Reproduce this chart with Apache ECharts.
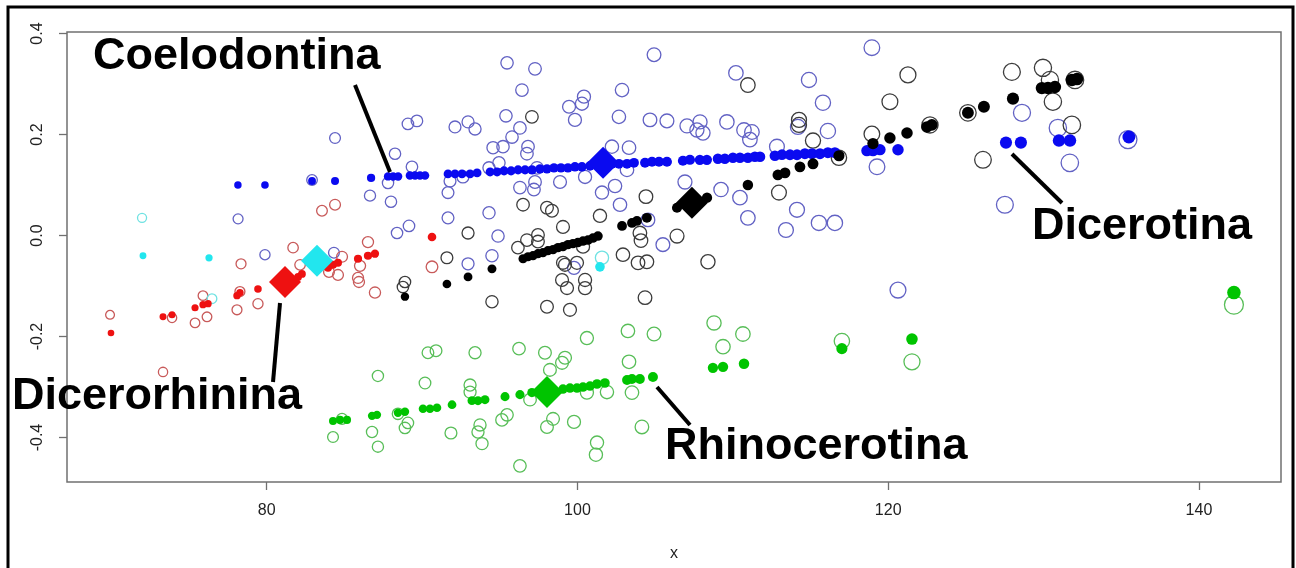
<!DOCTYPE html>
<html><head><meta charset="utf-8">
<script src="https://cdn.jsdelivr.net/npm/echarts@6/dist/echarts.min.js"></script>
<style>html,body{margin:0;padding:0;background:#fff}#c{width:1296px;height:568px}</style>
</head><body><div id="c"></div>
<script>
// ---- data (x, y) ----
const xTicks = [80, 100, 120, 140];
const yTicks = [-0.4, -0.2, 0.0, 0.2, 0.4];
const yTickLabels = ['-0.4', '-0.2', '0.0', '0.2', '0.4'];
const xAxisTitle = 'x';
const groupLabels = ['Coelodontina', 'Dicerorhinina', 'Rhinocerotina', 'Dicerotina'];

const blueObserved = [[78.16,0.033],[79.89,-0.038],[82.92,0.110],[84.40,0.193],[84.33,-0.034],[86.65,0.079],[87.81,0.104],[88.00,0.067],[88.26,0.162],[88.39,0.005],[89.16,0.019],[89.09,0.221],[89.67,0.227],[89.35,0.136],[91.67,0.085],[91.67,0.035],[92.12,0.215],[92.96,0.225],[93.41,0.211],[95.47,0.342],[97.27,0.330],[96.43,0.288],[95.40,0.237],[96.30,0.213],[95.79,0.195],[94.57,0.174],[95.21,0.176],[96.82,0.176],[96.75,0.162],[94.31,0.134],[94.95,0.144],[97.40,0.134],[99.46,0.255],[100.29,0.261],[100.42,0.275],[99.84,0.229],[102.87,0.288],[102.67,0.235],[104.93,0.358],[104.67,0.229],[105.76,0.227],[107.05,0.217],[107.89,0.225],[107.69,0.209],[108.08,0.203],[109.62,0.225],[110.20,0.322],[110.72,0.209],[111.23,0.205],[111.10,0.190],[114.90,0.308],[115.80,0.263],[116.12,0.207],[114.19,0.215],[112.84,0.176],[118.95,0.372],[119.28,0.136],[92.63,0.116],[94.31,0.045],[94.89,-0.001],[96.30,0.095],[97.20,0.091],[97.27,0.106],[98.88,0.106],[100.49,0.116],[101.58,0.085],[102.42,0.098],[102.74,0.061],[102.22,0.176],[103.32,0.174],[103.19,0.130],[104.54,0.031],[106.92,0.106],[109.24,0.091],[110.46,0.075],[110.97,0.035],[114.13,0.051],[113.42,0.011],[115.54,0.025],[116.57,0.025],[105.50,-0.018],[92.96,-0.056],[94.50,-0.040],[128.61,0.243],[130.92,0.213],[131.69,0.144],[127.51,0.061],[135.43,0.190],[120.63,-0.108],[91.80,0.108],[99.78,-0.064]];

const bluePredicted = [[78.15,0.100],[79.89,0.100],[82.92,0.108],[84.40,0.108],[86.72,0.114],[87.81,0.117],[88.14,0.117],[88.46,0.117],[89.22,0.119],[89.55,0.119],[89.87,0.119],[90.19,0.119],[91.67,0.122],[92.12,0.122],[92.57,0.122],[93.09,0.122],[93.54,0.124],[94.38,0.126],[94.83,0.126],[95.28,0.128],[95.73,0.128],[96.18,0.130],[96.63,0.130],[97.08,0.130],[97.59,0.132],[98.04,0.132],[98.49,0.134],[98.94,0.134],[99.39,0.134],[99.84,0.136],[100.29,0.136],[100.81,0.138],[101.26,0.140],[102.22,0.142],[102.67,0.142],[103.19,0.142],[103.64,0.144],[104.35,0.144],[104.80,0.146],[105.25,0.146],[105.76,0.146],[106.79,0.148],[107.24,0.150],[107.88,0.150],[108.33,0.150],[109.04,0.152],[109.49,0.152],[110.01,0.154],[110.46,0.154],[110.97,0.154],[111.42,0.156],[111.75,0.156],[112.71,0.158],[113.16,0.160],[113.68,0.160],[114.13,0.160],[114.64,0.162],[115.10,0.162],[115.61,0.162],[116.12,0.164],[116.57,0.164],[118.63,0.168],[119.02,0.168],[119.47,0.170],[120.63,0.170],[127.58,0.184],[128.54,0.184],[130.99,0.188],[131.70,0.188],[135.49,0.195]];

const blackObserved = [[88.90,-0.092],[88.77,-0.102],[91.60,-0.044],[92.96,0.005],[94.50,-0.131],[96.50,0.061],[97.07,0.235],[98.04,0.055],[98.36,0.049],[96.75,-0.009],[97.46,0.001],[98.04,-0.141],[99.52,-0.147],[99.01,-0.088],[99.33,-0.104],[99.07,-0.054],[99.97,-0.054],[100.49,-0.088],[100.49,-0.104],[99.07,0.017],[101.45,0.039],[102.93,-0.038],[103.90,-0.054],[104.47,-0.052],[104.02,0.005],[104.41,0.077],[104.35,-0.123],[106.41,-0.001],[108.40,-0.052],[110.97,0.298],[114.26,0.229],[114.26,0.219],[115.16,0.188],[116.83,0.154],[112.97,0.085],[118.95,0.201],[120.11,0.265],[121.27,0.318],[122.69,0.219],[125.13,0.243],[126.10,0.150],[127.96,0.324],[129.96,0.332],[130.41,0.308],[130.60,0.265],[131.82,0.219],[132.02,0.308],[96.17,-0.024],[100.36,-0.022],[99.20,-0.058],[104.09,-0.010],[97.46,-0.012]];

const blackPredicted = [[88.90,-0.121],[91.60,-0.096],[92.96,-0.082],[94.50,-0.066],[96.50,-0.046],[96.82,-0.042],[97.14,-0.040],[97.46,-0.036],[97.78,-0.034],[98.10,-0.030],[98.43,-0.028],[98.75,-0.024],[99.07,-0.022],[99.39,-0.018],[99.71,-0.016],[100.03,-0.014],[100.36,-0.011],[100.68,-0.009],[101.00,-0.005],[101.32,-0.001],[102.87,0.019],[103.51,0.025],[103.83,0.029],[104.47,0.035],[106.41,0.055],[108.34,0.075],[110.97,0.100],[112.90,0.120],[113.36,0.124],[114.32,0.136],[115.16,0.142],[116.83,0.158],[119.02,0.182],[120.11,0.193],[121.21,0.203],[122.49,0.215],[122.81,0.219],[125.13,0.243],[126.16,0.255],[128.03,0.271],[129.89,0.292],[130.28,0.292],[130.73,0.294],[131.82,0.308],[132.15,0.310]];

const redObserved = [[69.92,-0.157],[73.33,-0.270],[73.91,-0.163],[75.39,-0.173],[75.90,-0.119],[76.16,-0.161],[78.09,-0.147],[78.28,-0.111],[78.35,-0.056],[79.44,-0.135],[81.70,-0.024],[82.15,-0.058],[83.56,0.049],[84.40,0.061],[84.01,-0.072],[84.59,-0.078],[84.85,-0.042],[86.01,-0.060],[85.88,-0.084],[85.94,-0.092],[86.52,-0.013],[86.97,-0.113],[90.64,-0.062]];

const redPredicted = [[69.98,-0.193],[73.33,-0.161],[73.91,-0.157],[75.39,-0.143],[75.90,-0.137],[76.23,-0.135],[78.09,-0.119],[78.28,-0.113],[79.44,-0.106],[82.02,-0.082],[82.27,-0.076],[83.95,-0.064],[84.27,-0.058],[84.59,-0.054],[85.88,-0.046],[86.52,-0.040],[86.97,-0.036],[90.64,-0.003]];

const greenObserved = [[84.27,-0.399],[84.85,-0.363],[86.78,-0.389],[87.16,-0.418],[87.16,-0.278],[88.45,-0.353],[88.90,-0.381],[89.09,-0.371],[90.19,-0.292],[90.38,-0.232],[90.90,-0.228],[91.86,-0.391],[93.41,-0.232],[93.09,-0.296],[93.09,-0.310],[93.73,-0.375],[93.60,-0.389],[93.86,-0.412],[95.14,-0.365],[95.47,-0.355],[96.24,-0.224],[96.30,-0.456],[97.91,-0.232],[98.04,-0.379],[98.43,-0.363],[99.20,-0.242],[99.01,-0.252],[98.23,-0.266],[96.95,-0.325],[99.78,-0.369],[100.61,-0.203],[101.26,-0.410],[101.19,-0.434],[101.90,-0.310],[100.61,-0.311],[103.25,-0.189],[104.93,-0.195],[103.32,-0.250],[103.51,-0.311],[104.15,-0.379],[108.79,-0.173],[110.65,-0.195],[109.37,-0.220],[117.02,-0.209],[121.53,-0.250],[142.25,-0.137]];

const greenPredicted = [[84.27,-0.367],[84.72,-0.365],[85.17,-0.365],[86.78,-0.357],[87.10,-0.355],[88.45,-0.351],[88.90,-0.349],[90.06,-0.343],[90.51,-0.343],[90.96,-0.341],[91.93,-0.335],[93.21,-0.327],[93.60,-0.327],[94.05,-0.325],[95.34,-0.319],[96.30,-0.315],[97.07,-0.311],[99.07,-0.304],[99.52,-0.302],[99.97,-0.302],[100.36,-0.300],[100.81,-0.298],[101.26,-0.294],[101.77,-0.292],[103.19,-0.286],[103.51,-0.284],[104.02,-0.284],[104.86,-0.280],[108.72,-0.262],[109.37,-0.260],[110.72,-0.254],[117.02,-0.224],[121.53,-0.205],[142.25,-0.113]];

const cyanObserved = [[71.98,0.035],[76.48,-0.125],[101.58,-0.044]];
const cyanPredicted = [[72.04,-0.040],[76.29,-0.044],[101.45,-0.062]];

// group means (large diamonds)
const meanBlue = [[101.65,0.144]];
const meanBlack = [[107.37,0.065]];
const meanRed = [[81.18,-0.092]];
const meanCyan = [[83.24,-0.050]];
const meanGreen = [[98.04,-0.310]];

// ---- styling ----
const FONT = 'Liberation Sans, Arial, Helvetica, sans-serif';
const openSize = v => 0.14 * v[0] - 1;
const fillSize = v => 0.095 * v[0];

function openSeries(data, color) {
  return { type: 'scatter', data, symbol: 'circle', symbolSize: openSize, silent: true,
    itemStyle: { color: 'rgba(0,0,0,0)', borderColor: color, borderWidth: 1.3, opacity: 1 }, z: 2 };
}
function fillSeries(data, color) {
  return { type: 'scatter', data, symbol: 'circle', symbolSize: fillSize, silent: true,
    itemStyle: { color: color, opacity: 1 }, z: 3 };
}
function meanSeries(data, color) {
  return { type: 'scatter', data, symbol: 'diamond', symbolSize: 32, silent: true,
    itemStyle: { color: color, opacity: 1 }, z: 4 };
}

const C = { blue: '#0a0af0', black: '#000000', red: '#ee1111', green: '#00c400', cyan: '#22e6ee' };
const CO = { blue: '#6262c4', black: '#3c3c3c', red: '#c85a5a', green: '#58be58', cyan: '#6fe2e2' };

const chart = echarts.init(document.getElementById('c'), null, { renderer: 'canvas' });
chart.setOption({
  animation: false,
  backgroundColor: '#ffffff',
  grid: { left: 67, top: 32, right: 15, bottom: 86, show: true, borderColor: '#707070', borderWidth: 1.5, backgroundColor: 'transparent' },
  xAxis: {
    type: 'value', min: 67.15, max: 145.28, position: 'bottom',
    axisLine: { show: false, onZero: false },
    splitLine: { show: false },
    axisTick: { show: true, length: 8, customValues: xTicks, lineStyle: { color: '#707070', width: 1.3 } },
    axisLabel: { customValues: xTicks, margin: 21, fontSize: 16, fontFamily: FONT, color: '#222' },
    name: xAxisTitle, nameLocation: 'middle', nameGap: 64,
    nameTextStyle: { fontSize: 16, fontFamily: FONT, color: '#222' }
  },
  yAxis: {
    type: 'value', min: -0.488, max: 0.403, position: 'left',
    axisLine: { show: false, onZero: false },
    splitLine: { show: false },
    axisTick: { show: true, length: 8, customValues: yTicks, lineStyle: { color: '#707070', width: 1.3 } },
    axisLabel: { customValues: yTicks, rotate: 90, margin: 21, fontSize: 16, fontFamily: FONT, color: '#222',
      formatter: v => yTickLabels[yTicks.findIndex(t => Math.abs(t - v) < 1e-9)] }
  },
  series: [
    openSeries(blueObserved, CO.blue),
    openSeries(blackObserved, CO.black),
    openSeries(redObserved, CO.red),
    openSeries(greenObserved, CO.green),
    openSeries(cyanObserved, CO.cyan),
    fillSeries(bluePredicted, C.blue),
    fillSeries(blackPredicted, C.black),
    fillSeries(redPredicted, C.red),
    fillSeries(greenPredicted, C.green),
    fillSeries(cyanPredicted, C.cyan),
    meanSeries(meanBlue, C.blue),
    meanSeries(meanBlack, C.black),
    meanSeries(meanRed, C.red),
    meanSeries(meanCyan, C.cyan),
    meanSeries(meanGreen, C.green)
  ],
  graphic: [
    { type: 'rect', shape: { x: 8, y: 7, width: 1285, height: 620 }, style: { fill: 'none', stroke: '#000', lineWidth: 3 }, silent: true, z: 100 },
    { type: 'line', shape: { x1: 355, y1: 85, x2: 390, y2: 172 }, style: { stroke: '#000', lineWidth: 4 }, z: 100 },
    { type: 'line', shape: { x1: 280, y1: 303, x2: 273, y2: 382 }, style: { stroke: '#000', lineWidth: 4 }, z: 100 },
    { type: 'line', shape: { x1: 657, y1: 387, x2: 690, y2: 425 }, style: { stroke: '#000', lineWidth: 4 }, z: 100 },
    { type: 'line', shape: { x1: 1012, y1: 154, x2: 1062, y2: 203 }, style: { stroke: '#000', lineWidth: 4 }, z: 100 },
    { type: 'text', x: 93, y: 57, style: { text: groupLabels[0], font: 'bold 45px ' + FONT, fill: '#000', verticalAlign: 'middle' }, z: 100 },
    { type: 'text', x: 12, y: 397, style: { text: groupLabels[1], font: 'bold 45px ' + FONT, fill: '#000', verticalAlign: 'middle' }, z: 100 },
    { type: 'text', x: 665, y: 447, style: { text: groupLabels[2], font: 'bold 45px ' + FONT, fill: '#000', verticalAlign: 'middle' }, z: 100 },
    { type: 'text', x: 1032, y: 227, style: { text: groupLabels[3], font: 'bold 45px ' + FONT, fill: '#000', verticalAlign: 'middle' }, z: 100 }
  ]
});
</script>
</body></html>
